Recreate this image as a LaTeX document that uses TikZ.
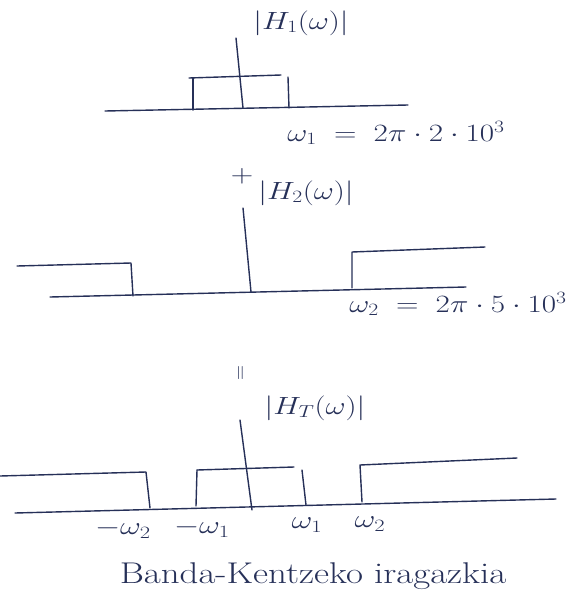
\documentclass[tikz,border=0pt]{standalone}
\definecolor{inkc}{RGB}{38,48,88}
\begin{document}
\begin{tikzpicture}[x=1pt,y=-1pt,
  ink/.style={draw=inkc, line width=1.4pt, line cap=round, line join=round},
  lbl/.style={text=inkc, inner sep=0pt, xscale=1.25, font=\fontsize{26}{30}\selectfont},
  tick/.style={text=inkc, inner sep=0pt, xscale=1.3, font=\fontsize{24}{28}\selectfont}]
\useasboundingbox (0,0) rectangle (587,600);
% ---------- H1 ----------
\coordinate (b1a) at (105,111); \coordinate (b1b) at (408,105);
\coordinate (a1t) at (236,38);  \coordinate (a1b) at (243,108);
\draw[ink] (b1a) -- (b1b);
\draw[ink] (a1t) -- (a1b);
\draw[ink] (193,110) -- (193,78);
\draw[ink] (189,78) -- (281,75);
\draw[ink] (288,77) -- (289,108);
\node[lbl] (h1) at (301,23) {$|H_1(\omega)|$};
\node[lbl] (f1) at (396,133) {$\omega_1 \;=\; 2\pi\cdot 2\cdot 10^3$};
\node[lbl] (plus) at (242,176) {$+$};
% ---------- H2 ----------
\node[lbl] (h2) at (306,193) {$|H_2(\omega)|$};
\draw[ink] (243,208) -- (251,292);
\draw[ink] (50,297) -- (466,287);
\draw[ink] (17,266) -- (131,263) -- (133,296);
\draw[ink] (352,288) -- (352,252) -- (485,247);
\node[lbl] (f2) at (458,304) {$\omega_2 \;=\; 2\pi\cdot 5\cdot 10^3$};
\node[text=inkc, inner sep=0pt, rotate=90, font=\fontsize{22}{24}\selectfont] (eq) at (242,373) {$=$};
% ---------- HT ----------
\node[lbl] (ht) at (315,408) {$|H_T(\omega)|$};
\draw[ink] (240,420) -- (252,510);
\draw[ink] (15,513) -- (556,499);
\draw[ink] (0,476) -- (146,472) -- (150,508);
\draw[ink] (196,506) -- (197,470);
\draw[ink] (197,470) -- (294,467);
\draw[ink] (302,470) -- (306,505);
\draw[ink] (362,502) -- (360,465) -- (517,458);
\node[tick] (m2) at (123,529) {$-\omega_2$};
\node[tick] (m1) at (202,528) {$-\omega_1$};
\node[tick] (p1) at (307,525) {$\omega_1$};
\node[tick] (p2) at (370,524) {$\omega_2$};
\node[text=inkc, inner sep=0pt, xscale=1.23, font=\fontsize{30}{34}\selectfont] (cap) at (313,576) {Banda-Kentzeko iragazkia};
\end{tikzpicture}
\end{document}
